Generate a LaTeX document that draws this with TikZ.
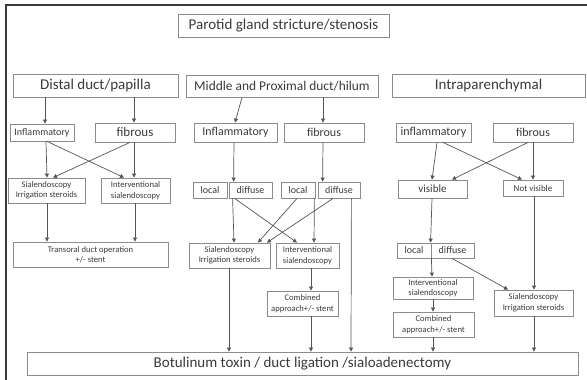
\documentclass[tikz,border=0pt]{standalone}
\usepackage{fontspec}
\setmainfont{Carlito}
\usepackage{xcolor}
\usetikzlibrary{arrows.meta,positioning}
\definecolor{boxline}{HTML}{8C8C8C}
\definecolor{ink}{HTML}{3A3A3A}
\definecolor{wire}{HTML}{555555}
\definecolor{frameline}{HTML}{3A3A3A}

\begin{document}
\begin{tikzpicture}[x=1pt, y=-1pt, >={Triangle[length=4pt,width=4pt]},
  box/.style={draw=boxline, line width=0.8pt, text=ink, inner sep=0pt, align=center},
  big/.style={font=\fontsize{15}{17}\selectfont},
  mid/.style={font=\fontsize{12}{14}\selectfont},
  small/.style={font=\fontsize{8.6}{10.5}\selectfont},
  wire/.style={draw=wire, line width=0.7pt, ->}]
\useasboundingbox (0,0) rectangle (587,380);
\draw[frameline, line width=1.2pt] (587,5) -- (6,5) -- (6,380);
% top
\node[box, big, minimum width=211pt, minimum height=23pt] (title) at (283.5,25.5) {Parotid gland stricture/stenosis};
% three locations
\node[box, big, minimum width=165pt, minimum height=23pt] (distal) at (95.5,85.5) {Distal duct/papilla};
\node[box, font=\fontsize{13.4}{15}\selectfont, minimum width=192pt, minimum height=22pt] (middle) at (282,86) {Middle and Proximal duct/hilum};
\node[box, big, minimum width=193pt, minimum height=23pt] (intra) at (488.5,85.5) {Intraparenchymal};
% distal branch
\node[box, font=\fontsize{10}{12}\selectfont, minimum width=64pt, minimum height=17pt] (dinf) at (42,132.5) {Inflammatory};
\node[box, font=\fontsize{13}{15}\selectfont, minimum width=80pt, minimum height=19pt] (dfib) at (135,132.5) {fibrous};
\node[box, small, minimum width=77pt, minimum height=25pt] (dsia) at (46.5,190.5) {Sialendoscopy\\Irrigation steroids};
\node[box, small, minimum width=69pt, minimum height=25pt] (dint) at (135.5,190.5) {Interventional\\sialendoscopy};
\node[box, small, minimum width=155pt, minimum height=25pt] (dtra) at (90.5,254.5) {Transoral duct operation\\+/- stent};
% middle branch
\node[box, mid, minimum width=83pt, minimum height=19pt] (minf) at (235.5,132.5) {Inflammatory};
\node[box, mid, minimum width=80pt, minimum height=19pt] (mfib) at (324,132.5) {fibrous};
\node[box, font=\fontsize{10}{12}\selectfont, minimum width=34pt, minimum height=16pt] (mloca) at (210,190) {local};
\node[box, font=\fontsize{10}{12}\selectfont, minimum width=43pt, minimum height=16pt] (mdifa) at (250.5,190) {diffuse};
\node[box, font=\fontsize{10}{12}\selectfont, minimum width=34pt, minimum height=16pt] (mlocb) at (298,190) {local};
\node[box, font=\fontsize{10}{12}\selectfont, minimum width=42pt, minimum height=16pt] (mdifb) at (339,190) {diffuse};
\node[box, small, minimum width=81pt, minimum height=25pt] (msia) at (229.5,255.5) {Sialendoscopy\\Irrigation steroids};
\node[box, small, minimum width=63pt, minimum height=25pt] (mint) at (307.5,255.5) {Interventional\\sialendoscopy};
\node[box, small, minimum width=71pt, minimum height=25pt] (mcom) at (302.5,303.5) {Combined\\approach+/- stent};
% intraparenchymal branch
\node[box, mid, minimum width=75pt, minimum height=19pt] (iinf) at (433.5,132.5) {inflammatory};
\node[box, mid, minimum width=80pt, minimum height=19pt] (ifib) at (533,132.5) {fibrous};
\node[box, font=\fontsize{11}{13}\selectfont, minimum width=69pt, minimum height=18pt] (ivis) at (432.5,189) {visible};
\node[box, font=\fontsize{9}{11}\selectfont, minimum width=60pt, minimum height=16pt] (inot) at (533,188) {Not visible};
\node[box, font=\fontsize{10}{12}\selectfont, minimum width=34pt, minimum height=15pt] (iloc) at (414,250.5) {local};
\node[box, font=\fontsize{10}{12}\selectfont, minimum width=43pt, minimum height=15pt] (idif) at (452.5,250.5) {diffuse};
\node[box, small, minimum width=80pt, minimum height=22pt] (iint) at (433,288) {Interventional\\sialendoscopy};
\node[box, small, minimum width=81pt, minimum height=25pt] (icom) at (433.5,324.5) {Combined\\approach+/- stent};
\node[box, small, minimum width=79pt, minimum height=26pt] (isia) at (533.5,303) {Sialendoscopy\\Irrigation steroids};
% end point
\node[box, big, minimum width=551pt, minimum height=23pt] (bot) at (302.5,363.5) {Botulinum toxin / duct ligation /sialoadenectomy};
% distal arrows
\draw[wire] ([xshift=-50.5]distal.south) -- ([xshift=3]dinf.north);
\draw[wire] ([xshift=38.5]distal.south) -- ([xshift=-1]dfib.north);
\draw[wire] ([xshift=4]dinf.south) -- ([xshift=0.5]dsia.north);
\draw[wire] ([xshift=5]dinf.south) -- ([xshift=-11.5]dint.north);
\draw[wire] ([xshift=-5]dfib.south) -- ([xshift=6.5]dsia.north);
\draw[wire] ([xshift=-1]dfib.south) -- ([xshift=-1.5]dint.north);
\draw[wire] ([xshift=0.5]dsia.south) -- ([xshift=-43.5]dtra.north);
\draw[wire] ([xshift=-0.5]dint.south) -- ([xshift=44.5]dtra.north);
% middle arrows
\draw[wire] ([xshift=-40]middle.south) -- ([xshift=-0.5]minf.north);
\draw[wire] ([xshift=41]middle.south) -- ([xshift=-1]mfib.north);
\draw[wire] ([xshift=-1.5]minf.south) -- ([xshift=5]mdifa.north west);
\draw[wire] ([xshift=-1]mfib.south) -- ([xshift=5]mdifb.north west);
\draw[wire] ([xshift=4]mdifa.south west) -- ([xshift=4.5]msia.north);
\draw[wire] ([xshift=6]mdifa.south west) -- ([xshift=-10.5]mint.north);
\draw[wire] ([xshift=-1]mlocb.south) -- ([xshift=28.5]msia.north);
\draw[wire] ([xshift=-6]mdifb.south) -- ([xshift=37.5]msia.north);
\draw[wire] ([xshift=-1]mlocb.south east) -- ([xshift=6.5]mint.north);
\draw[wire] ([xshift=-9]mdifb.south east) -- ([xshift=48.5]bot.north);
\draw[wire] ([xshift=-0.5]msia.south) -- ([xshift=-73.5]bot.north);
\draw[wire] ([xshift=3.5]mint.south) -- ([xshift=8.5]mcom.north);
\draw[wire] ([xshift=8.5]mcom.south) -- ([xshift=8.5]bot.north);
% intraparenchymal arrows
\draw[wire] ([xshift=3.5]iinf.south) -- ([xshift=-0.5]ivis.north);
\draw[wire] ([xshift=9.5]iinf.south) -- ([xshift=-11]inot.north);
\draw[wire] ([xshift=-5]ifib.south) -- ([xshift=19.5]ivis.north);
\draw[wire] ([xshift=0]ifib.south) -- ([xshift=0]inot.north);
\draw[wire] ([xshift=-0.5]ivis.south) -- (idif.north west);
\draw[wire] (iloc.south east) -- ([xshift=-1]iint.north);
\draw[wire] ([xshift=-0.5]idif.south) -- ([xshift=-25.5]isia.north);
\draw[wire] ([xshift=1]inot.south) -- ([xshift=0.5]isia.north);
\draw[wire] (iint.south) -- ([xshift=-0.5]icom.north);
\draw[wire] ([xshift=-0.5]icom.south) -- ([xshift=130.5]bot.north);
\draw[wire] ([xshift=0.5]isia.south) -- ([xshift=231.5]bot.north);
\end{tikzpicture}
\end{document}
